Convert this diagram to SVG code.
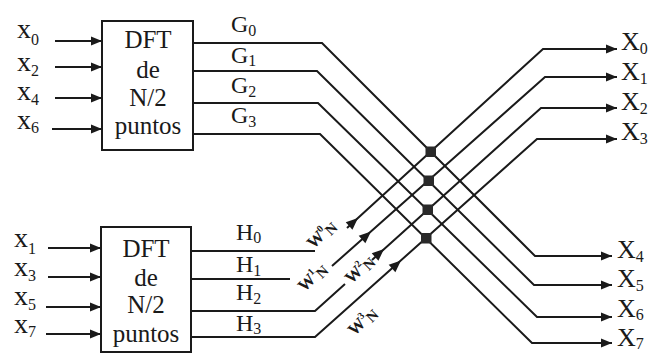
<svg xmlns="http://www.w3.org/2000/svg" width="658" height="353" viewBox="0 0 658 353">
<defs>
<style>
.ln{fill:none;stroke:#1a1a1a;stroke-width:2;stroke-linejoin:miter}
.bx{fill:#fff;stroke:#1a1a1a;stroke-width:2}
.t{font-family:"Liberation Serif","Times New Roman",serif;fill:#1a1a1a}
.bt{font-size:25px;text-anchor:middle}
.in{font-size:28px}
.out{font-size:26px}
.gh{font-size:24px}
.sub{font-size:16px}
.w{font-size:17px;font-weight:bold;text-anchor:middle}
.dot{fill:#2a2a2a}
</style>
<marker id="arr" markerWidth="12" markerHeight="10" refX="11" refY="5" orient="auto" markerUnits="userSpaceOnUse">
<path d="M0,0.5 L11,5 L0,9.5 Z" fill="#1a1a1a"/>
</marker>
<path id="ah" d="M0,0 L-12,-5 L-12,5 Z" fill="#1a1a1a"/>
</defs>
<rect width="658" height="353" fill="#fff"/>

<g id="connectors">
<path class="ln" marker-end="url(#arr)" d="M55,41 H102"/>
<path class="ln" marker-end="url(#arr)" d="M55,67 H102"/>
<path class="ln" marker-end="url(#arr)" d="M55,98 H102"/>
<path class="ln" marker-end="url(#arr)" d="M52,129 H102"/>
<path class="ln" marker-end="url(#arr)" d="M48,248 H101"/>
<path class="ln" marker-end="url(#arr)" d="M48,277 H101"/>
<path class="ln" marker-end="url(#arr)" d="M46,307 H101"/>
<path class="ln" marker-end="url(#arr)" d="M46,334 H101"/>
<path class="ln" marker-end="url(#arr)" d="M193,43 H322 L535,256 H612"/>
<path class="ln" marker-end="url(#arr)" d="M193,71 H317 L534,285 H612"/>
<path class="ln" marker-end="url(#arr)" d="M193,103 H318 L537,317 H612"/>
<path class="ln" marker-end="url(#arr)" d="M193,134 H320 L532,343 H612"/>
<path class="ln" d="M191,251 H315"/>
<path class="ln" marker-end="url(#arr)" d="M347,228 L543,49 H617"/>
<path class="ln" d="M191,279 H290"/>
<path class="ln" marker-end="url(#arr)" d="M332,266 L545,77 H617"/>
<path class="ln" d="M191,311 H315 L345,284"/>
<path class="ln" marker-end="url(#arr)" d="M372,260 L541,108 H617"/>
<path class="ln" marker-end="url(#arr)" d="M191,337 H315 L537,139 H617"/>
<use href="#ah" transform="translate(358,218) rotate(-42)"/>
<use href="#ah" transform="translate(371,231.5) rotate(-41.6)"/>
<use href="#ah" transform="translate(384,249) rotate(-41.9)"/>
<use href="#ah" transform="translate(401,260.5) rotate(-41.7)"/>
<rect class="dot" x="425.5" y="146.5" width="10.5" height="10.5"/>
<rect class="dot" x="423.5" y="175.5" width="10.5" height="10.5"/>
<rect class="dot" x="422.5" y="204.5" width="10.5" height="10.5"/>
<rect class="dot" x="421" y="233" width="10.5" height="10.5"/>
</g>

<g id="dft-top">
<rect class="bx" x="102" y="21" width="91" height="129"/>
<text class="t bt" x="148" y="48">DFT</text>
<text class="t bt" x="148" y="78">de</text>
<text class="t bt" x="148" y="106">N/2</text>
<text class="t bt" x="148" y="134">puntos</text>
</g>

<g id="dft-bottom">
<rect class="bx" x="101" y="227" width="90" height="125"/>
<text class="t bt" x="146" y="257">DFT</text>
<text class="t bt" x="146" y="286">de</text>
<text class="t bt" x="146" y="313">N/2</text>
<text class="t bt" x="146" y="342">puntos</text>
</g>

<g id="inputs">
<text class="t in" x="17" y="38">x<tspan class="sub" dy="7">0</tspan></text>
<text class="t in" x="17" y="71">x<tspan class="sub" dy="5">2</tspan></text>
<text class="t in" x="17" y="100">x<tspan class="sub" dy="5">4</tspan></text>
<text class="t in" x="17" y="129">x<tspan class="sub" dy="4">6</tspan></text>
<text class="t in" x="14" y="247">x<tspan class="sub" dy="7">1</tspan></text>
<text class="t in" x="14" y="276">x<tspan class="sub" dy="5">3</tspan></text>
<text class="t in" x="14" y="305">x<tspan class="sub" dy="5">5</tspan></text>
<text class="t in" x="14" y="333">x<tspan class="sub" dy="4">7</tspan></text>
</g>

<g id="g-labels">
<text class="t gh" x="231" y="32">G<tspan class="sub" dy="4">0</tspan></text>
<text class="t gh" x="231" y="63">G<tspan class="sub" dy="3">1</tspan></text>
<text class="t gh" x="231" y="93">G<tspan class="sub" dy="4">2</tspan></text>
<text class="t gh" x="231" y="123">G<tspan class="sub" dy="4">3</tspan></text>
</g>

<g id="h-labels">
<text class="t gh" x="236" y="240">H<tspan class="sub" dy="3">0</tspan></text>
<text class="t gh" x="236" y="272">H<tspan class="sub" dy="4">1</tspan></text>
<text class="t gh" x="236" y="300">H<tspan class="sub" dy="4">2</tspan></text>
<text class="t gh" x="236" y="331">H<tspan class="sub" dy="3">3</tspan></text>
</g>

<g id="twiddles">
<text class="t w" transform="translate(325,238) rotate(-45)">W<tspan font-size="10" dy="-7">0</tspan><tspan font-size="15" dy="10">N</tspan></text>
<text class="t w" transform="translate(316,281) rotate(-45)">W<tspan font-size="10" dy="-7">1</tspan><tspan font-size="15" dy="10">N</tspan></text>
<text class="t w" transform="translate(363,273) rotate(-45)">W<tspan font-size="10" dy="-7">2</tspan><tspan font-size="15" dy="10">N</tspan></text>
<text class="t w" transform="translate(366,325) rotate(-45)">W<tspan font-size="10" dy="-7">3</tspan><tspan font-size="15" dy="10">N</tspan></text>
</g>

<g id="outputs">
<text class="t out" x="621" y="50">X<tspan class="sub" dy="4">0</tspan></text>
<text class="t out" x="621" y="80">X<tspan class="sub" dy="4">1</tspan></text>
<text class="t out" x="621" y="110">X<tspan class="sub" dy="4">2</tspan></text>
<text class="t out" x="621" y="140">X<tspan class="sub" dy="4">3</tspan></text>
<text class="t out" x="617" y="258">X<tspan class="sub" dy="4">4</tspan></text>
<text class="t out" x="617" y="287">X<tspan class="sub" dy="4">5</tspan></text>
<text class="t out" x="617" y="317">X<tspan class="sub" dy="3">6</tspan></text>
<text class="t out" x="617" y="346">X<tspan class="sub" dy="3">7</tspan></text>
</g>
</svg>
